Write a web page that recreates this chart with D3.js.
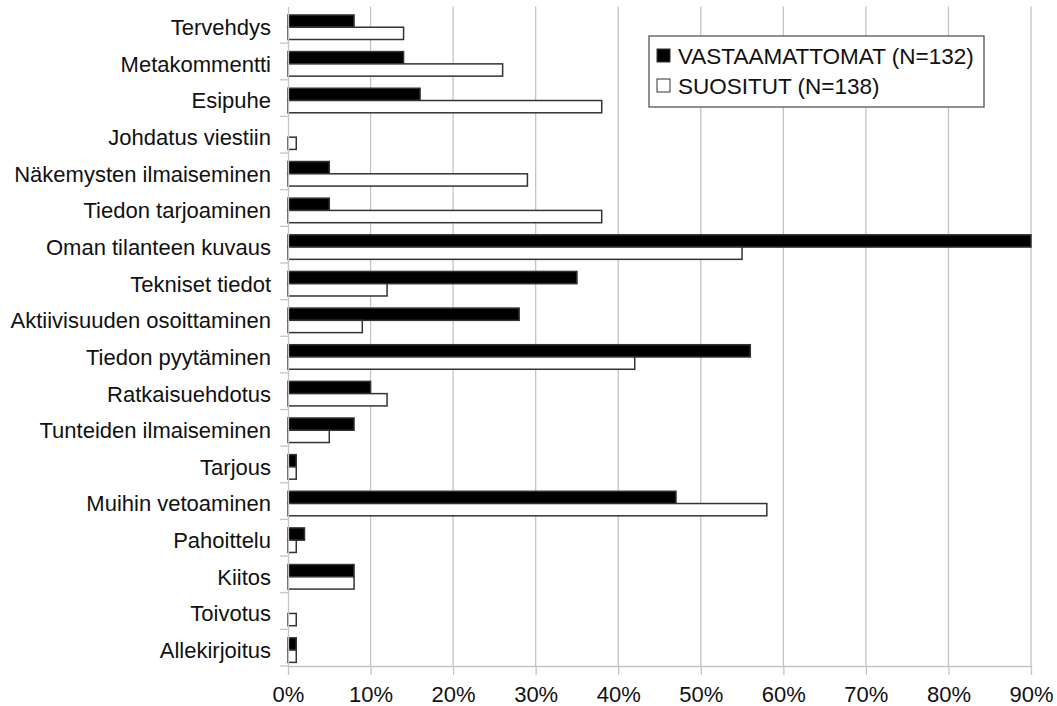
<!DOCTYPE html>
<html>
<head>
<meta charset="utf-8">
<script src="https://cdnjs.cloudflare.com/ajax/libs/d3/7.8.5/d3.min.js"></script>
<style>
  body { margin: 0; background: #fff; }
  svg { display: block; font-family: "Liberation Sans", Arial, sans-serif; }
</style>
</head>
<body>
<div id="wrapper"></div>
<script>
// data (percent)
const categories = [
  "Tervehdys", "Metakommentti", "Esipuhe", "Johdatus viestiin",
  "Näkemysten ilmaiseminen", "Tiedon tarjoaminen", "Oman tilanteen kuvaus",
  "Tekniset tiedot", "Aktiivisuuden osoittaminen", "Tiedon pyytäminen",
  "Ratkaisuehdotus", "Tunteiden ilmaiseminen", "Tarjous", "Muihin vetoaminen",
  "Pahoittelu", "Kiitos", "Toivotus", "Allekirjoitus"
];
const vastaamattomat = [8, 14, 16, 0, 5, 5, 90, 35, 28, 56, 10, 8, 1, 47, 2, 8, 0, 1];
const suositut = [14, 26, 38, 1, 29, 38, 55, 12, 9, 42, 12, 5, 1, 58, 1, 8, 1, 1];
const seriesNames = ["VASTAAMATTOMAT (N=132)", "SUOSITUT (N=138)"];
const xTicks = [0, 10, 20, 30, 40, 50, 60, 70, 80, 90];

function drawChart() {
    let dimensions = {
        width: 1057,
        height: 706,
        margins: { top: 6.5, right: 26, bottom: 40, left: 288 }
    };
    dimensions.boundedWidth = dimensions.width - dimensions.margins.left - dimensions.margins.right;
    dimensions.boundedHeight = dimensions.height - dimensions.margins.top - dimensions.margins.bottom;

    const wrapper = d3.select("#wrapper")
        .append("svg")
        .attr("width", dimensions.width)
        .attr("height", dimensions.height);

    const bounds = wrapper.append("g")
        .attr("transform", `translate(${dimensions.margins.left},${dimensions.margins.top})`);

    // skaalat
    const xScale = d3.scaleLinear()
        .domain([0, 90])
        .range([0, 743]);

    const yScale = d3.scaleBand()
        .domain(categories)
        .range([0, dimensions.boundedHeight])
        .paddingInner(0.33)
        .paddingOuter(0.165)
        .align(0.7);

    const sScale = d3.scaleBand()
        .domain([0, 1])
        .range([0, yScale.bandwidth()]);

    // gridlines
    bounds.append("g")
        .selectAll("line")
        .data(xTicks.slice(1))
        .join("line")
        .attr("x1", d => xScale(d))
        .attr("x2", d => xScale(d))
        .attr("y1", 0)
        .attr("y2", dimensions.boundedHeight)
        .attr("stroke", "#c4c4c4")
        .attr("stroke-width", 1.3);

    // palkit
    const rows = categories.map((c, i) => ({ c, v: [vastaamattomat[i], suositut[i]] }));
    const groups = bounds.append("g")
        .selectAll("g")
        .data(rows)
        .join("g")
        .attr("transform", d => `translate(0,${yScale(d.c)})`);

    groups.selectAll("rect")
        .data(d => d.v.map((v, s) => ({ v, s })).filter(e => e.v > 0))
        .join("rect")
        .attr("x", xScale(0))
        .attr("y", d => sScale(d.s))
        .attr("width", d => xScale(d.v) - xScale(0))
        .attr("height", sScale.bandwidth())
        .attr("fill", d => d.s === 0 ? "#000" : "#fff")
        .attr("stroke", "#333")
        .attr("stroke-width", 1.5);

    // akselit
    const xAxis = bounds.append("g")
        .attr("transform", `translate(0,${dimensions.boundedHeight})`)
        .call(d3.axisBottom(xScale)
            .tickValues(xTicks)
            .tickFormat(d => d + "%")
            .tickSize(9)
            .tickSizeOuter(0)
            .tickPadding(11));
    xAxis.select(".domain").attr("stroke", "#c4c4c4").attr("stroke-width", 1.3);
    xAxis.selectAll(".tick line").attr("stroke", "#c4c4c4").attr("stroke-width", 1.3);
    xAxis.selectAll(".tick text")
        .attr("fill", "#111")
        .style("font-size", "22px");

    const yAxis = bounds.append("g")
        .call(d3.axisLeft(yScale).tickSize(0).tickPadding(17));
    yAxis.select(".domain").attr("stroke", "#c4c4c4").attr("stroke-width", 1.3);
    yAxis.selectAll(".tick text")
        .attr("fill", "#111")
        .attr("dy", "0.36em")
        .style("font-family", "'Liberation Sans', Arial, sans-serif")
        .style("font-size", "22px");

    // kategorioiden rajaviivat
    const step = yScale.step();
    bounds.append("g")
        .selectAll("line")
        .data(d3.range(1, categories.length + 1))
        .join("line")
        .attr("x1", -8)
        .attr("x2", 0)
        .attr("y1", d => d * step)
        .attr("y2", d => d * step)
        .attr("stroke", "#c4c4c4")
        .attr("stroke-width", 1.3);

    // selite
    const legend = wrapper.append("g")
        .attr("transform", "translate(649,36)");
    legend.append("rect")
        .attr("width", 335)
        .attr("height", 71)
        .attr("fill", "#fff")
        .attr("stroke", "#555")
        .attr("stroke-width", 1.3);
    const items = legend.selectAll(".item")
        .data(seriesNames)
        .join("g")
        .attr("class", "item")
        .attr("transform", (d, i) => `translate(0,${i * 30})`);
    items.append("rect")
        .attr("x", 8)
        .attr("y", 13)
        .attr("width", 13)
        .attr("height", 13)
        .attr("fill", (d, i) => i === 0 ? "#000" : "#fff")
        .attr("stroke", "#333")
        .attr("stroke-width", 1);
    items.append("text")
        .attr("x", 29)
        .attr("y", 27.5)
        .attr("fill", "#111")
        .style("font-size", "22.5px")
        .text(d => d);
}

drawChart();
</script>
</body>
</html>
